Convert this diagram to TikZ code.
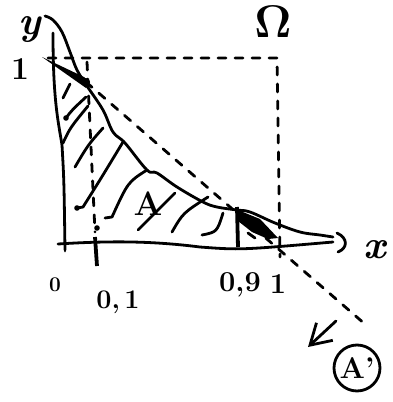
\RequirePackage{fix-cm}
\documentclass[tikz,border=0pt]{standalone}
\usepackage[no-math]{fontspec}
\setmainfont{Latin Modern Roman}
\usetikzlibrary{arrows.meta}
\begin{document}
\begin{tikzpicture}[x=1bp,y=-1bp,
  ink/.style={line width=2.8bp,line cap=round,line join=round},
  dsh/.style={ink,dash pattern=on 8bp off 9bp},
  hatch/.style={ink},
  lbl/.style={inner sep=0pt,font=\bfseries},
]
\useasboundingbox (0,0) rectangle (393,402);
% key points
\coordinate (P1) at (86,82);
\coordinate (P9) at (237,211);
\coordinate (Dend) at (366,325);
\coordinate (SqTL) at (48,58);
\coordinate (SqTR) at (277,58);
\coordinate (SqBR) at (280,257);
\coordinate (Vtop) at (87,62);
\coordinate (Vbot) at (95,232);
% axes
\draw[ink] (53,33) .. controls (53,100) and (58,120) .. (62,145) .. controls (64,180) .. (65,250);
\draw[ink] (58,244) .. controls (120,240) and (160,242) .. (200,247) .. controls (240,250) .. (333,242);
\draw[ink] (337,233) .. controls (348,238) and (348,248) .. (338,252);
% dashed square and 0.1 line
\draw[dsh] (SqTL) -- (SqTR) -- (SqBR);
\draw[dsh] (Vtop) -- (Vbot);
\draw[dsh] (P1) -- (Dend);
% curve
\draw[ink] plot[smooth,tension=0.6] coordinates {(45,16) (53,20) (62,32) (70,52) (77,70) (87,86) (103,110) (113,132) (125,143) (147,170) (157,173) (177,187) (203,202) (217,207) (237,210) (250,212) (275,223) (300,232) (320,235) (333,237)};
% hatching
\draw[hatch] (63,98) -- (70,84);
\fill (66,118) circle (2.8bp);
\draw[hatch] (66,118) .. controls (72,110) .. (86,97);
\draw[hatch] (63,143) .. controls (70,128) .. (88,106);
\draw[hatch] (75,167) .. controls (88,145) .. (103,128);
\fill (77,208) circle (2.8bp);
\draw[hatch] (77,208) -- (83,207) .. controls (100,180) .. (123,142);
\draw[hatch] (105,218) -- (112,217) .. controls (128,182) .. (147,170);
\draw[hatch] (138,230) -- (175,193);
\draw[hatch] (172,232) .. controls (183,213) .. (208,197);
\draw[hatch] (202,235) .. controls (217,232) .. (223,213);
\draw[hatch] (248,233) -- (255,238);
% thick marks
\fill (42,57) -- (84,77) -- (90,82) -- (86,88) -- cycle;
\fill (86,82) circle (4bp);
\fill (238,210) -- (260,219) -- (278,238) -- (268,239) -- (252,232) -- (238,221) -- cycle;
\draw[line width=3.8bp] (237,207) -- (238,247);
\draw[line width=3.8bp] (95,237) -- (97,266);
\fill (97,228) circle (2.8bp);
\draw[ink] (65,240) -- (65,251);
% arrow to A'
\coordinate (Astart) at (336,321);
\coordinate (Atip) at (308,347);
\draw[ink,-{Straight Barb[length=20bp,width=24bp,line width=2.8bp]}] (Astart) -- (Atip);
% labels
\node[lbl] (ylab) at (30,30) {\fontsize{40}{40}\selectfont\itshape y};
\node[lbl] (one) at (20,69) {\fontsize{32}{32}\selectfont 1};
\node[lbl] (omega) at (273,22) {\fontsize{46}{46}\selectfont $\mathbf{\Omega}$};
\node[lbl] (xlab) at (375,250) {\fontsize{40}{40}\selectfont\itshape x};
\node[lbl] (zero) at (55,285) {\fontsize{21}{21}\selectfont 0};
\node[lbl] (zeroone) at (118,302) {\fontsize{27}{27}\selectfont 0,\,1};
\node[lbl] (zeronine) at (240,285) {\fontsize{29}{29}\selectfont 0,9};
\node[lbl] (onex) at (278,284) {\fontsize{29}{29}\selectfont 1};
\node[lbl] (A) at (148,204) {\fontsize{34}{34}\selectfont A};
\node[ink,draw,circle,minimum size=46bp,inner sep=0pt] (Ap) at (357,368) {\fontsize{30}{30}\selectfont\bfseries A'};
\end{tikzpicture}
\end{document}
